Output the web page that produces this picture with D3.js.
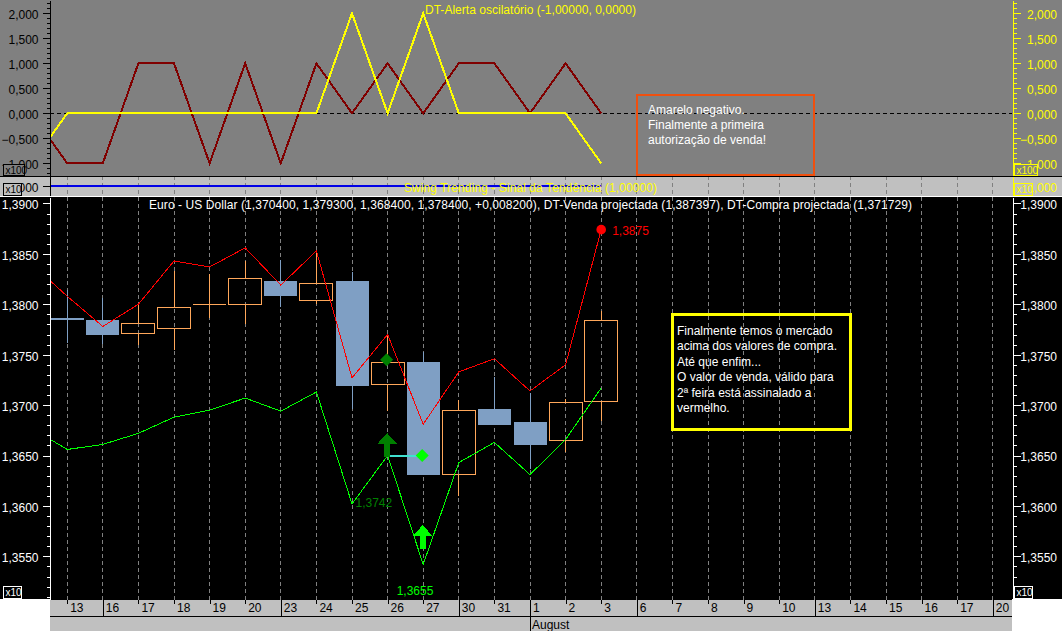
<!DOCTYPE html>
<html>
<head>
<meta charset="utf-8">
<title>Euro - US Dollar</title>
<script src="https://cdn.jsdelivr.net/npm/d3@7"></script>
<style>
	html, body { margin: 0; padding: 0; background: #fff; overflow: hidden; }
	svg { display: block; }
	text { font-family: "Liberation Sans", Arial, sans-serif; font-size: 12px; }
	.crisp, .crisp * { shape-rendering: crispEdges; }
</style>
</head>
<body>
<div id="chart"></div>
<script>
// our data
const dayLabels = ['13', '16', '17', '18', '19', '20', '23', '24', '25', '26', '27', '30', '31', '1', '2', '3', '6', '7', '8', '9', '10', '13', '14', '15', '16', '17', '20']
const weekStarts = [1, 6, 11, 13, 16, 21, 26] // indexes with a full height tick
const monthLabels = [{index: 13, label: 'August'}]

// daily candles, 13 July to 3 August
const open = [1.3786, 1.3784, 1.3771, 1.3776, 1.3800, 1.3800, 1.3823, 1.3804, 1.3823, 1.3720, 1.3743, 1.3631, 1.3696, 1.3683, 1.3665, 1.3704]
const high = [1.3814, 1.3806, 1.3800, 1.3833, 1.3830, 1.3843, 1.3844, 1.3854, 1.3832, 1.3770, 1.3753, 1.3705, 1.3728, 1.3712, 1.3706, 1.3793]
const low = [1.3762, 1.3761, 1.3760, 1.3755, 1.3786, 1.3780, 1.3797, 1.3800, 1.3696, 1.3694, 1.3631, 1.3610, 1.3680, 1.3637, 1.3653, 1.3684]
const close = [1.3784, 1.3770, 1.3781, 1.3797, 1.3800, 1.3826, 1.3808, 1.3821, 1.3719, 1.3742, 1.3631, 1.3695, 1.3680, 1.3660, 1.3703, 1.3784]

// these lines start one session before the first label, off the left edge
const sellLine = [1.3840, 1.3808, 1.3778, 1.3800, 1.3843, 1.3837, 1.3856, 1.3819, 1.3853, 1.3727, 1.3770, 1.3681, 1.3733, 1.3746, 1.3714, 1.3740, 1.3874]
const buyLine = [1.3677, 1.3656, 1.3661, 1.3672, 1.3688, 1.3695, 1.3707, 1.3694, 1.3713, 1.3602, 1.3650, 1.3542, 1.3643, 1.3663, 1.3631, 1.3666, 1.3717]
const yellowOsc = [-1, 0, 0, 0, 0, 0, 0, 0, 0, 2, 0, 2, 0, 0, 0, 0, -1]
const redOsc = [0, -1, -1, 1, 1, -1, 1, -1, 1, 0, 1, 0, 1, 1, 0, 1, 0]
const swingLine = [1, 1, 1, 1, 1, 1, 1, 1, 1, 1, 1, 1, 1, 1, 1, 1, 1]

const oscTicks = [-1, -0.5, 0, 0.5, 1, 1.5, 2]
const swingTicks = [1]
const priceTicks = [1.355, 1.36, 1.365, 1.37, 1.375, 1.38, 1.385, 1.39]

const oscTitle = 'DT-Alerta oscilatório (-1,00000, 0,0000)'
const swingTitle = 'Swing Trending - Sinal da Tendência (1,00000)'
const priceTitle = 'Euro - US Dollar (1,370400, 1,379300, 1,368400, 1,378400, +0,008200), DT-Venda projectada (1,387397), DT-Compra projectada (1,371729)'
const orangeNote = ['Amarelo negativo.', 'Finalmente a primeira', 'autorização de venda!']
const yellowNote = ['Finalmente temos o mercado', 'acima dos valores de compra.', 'Até que enfim...', 'O valor de venda, válido para', '2ª feira está assinalado a', 'vermelho.']

// signals on the price panel
const sellDots = [{index: 15, value: 1.3874, label: '1,3875'}]
const upArrows = [{index: 9, value: 1.36723, color: '#008000'}, {index: 10, value: 1.3581, color: '#00ff00'}]
const diamonds = [{index: 9, value: 1.3745, color: '#008000'}, {index: 10, value: 1.3650, color: '#00ff00'}]
const greenLabels = [{index: 8, value: 1.3602, label: '1,3742', color: '#008000'}, {index: 10, value: 1.3515, label: '1,3655', color: '#00ff00'}]

/**
 * Layout and scales
 * */
const width = 1062
const height = 631
const left = 50
const right = 1012
const oscBottom = 176
const swingBottom = 197
const priceBottom = 600
const stripRow = 616

const x = d3.scaleLinear().domain([0, dayLabels.length - 1]).range([67.2, 992.8])
const yOsc = d3.scaleLinear().domain([-1.254, 2.266]).range([oscBottom, 0])
const ySwing = d3.scaleLinear().domain([0, 2]).range([swingBottom - 1, oscBottom])
const yPrice = d3.scaleLinear().domain([1.35067, 1.39064]).range([priceBottom, swingBottom])

const commaLocale = d3.formatLocale({decimal: ',', thousands: '.', grouping: [3], currency: ['', '']})
const fmt3 = commaLocale.format('.3f')
const fmt4 = commaLocale.format('.4f')

const $svg = d3.select('#chart').append('svg').attr('width', width).attr('height', height)

// panel backgrounds
const panels = [
	{y: 0, h: oscBottom, fill: '#808080'},
	{y: oscBottom, h: swingBottom - oscBottom, fill: '#c0c0c0'},
	{y: swingBottom, h: priceBottom - swingBottom, fill: '#000'}
]
$svg.append('g').selectAll('rect').data(panels).join('rect')
	.attr('x', 0).attr('width', width)
	.attr('y', d => d.y).attr('height', d => d.h)
	.attr('fill', d => d.fill)

// clip each panel so that the lead-in of the lines stays off the axis
const defs = $svg.append('defs')
const clipFor = (id, top, bottom) => defs.append('clipPath').attr('id', id).append('rect')
	.attr('x', left).attr('y', top).attr('width', right - left).attr('height', bottom - top)
clipFor('clipOsc', 0, oscBottom)
clipFor('clipSwing', oscBottom, swingBottom)
clipFor('clipPrice', swingBottom, priceBottom)

const sessionLine = y => d3.line().x((d, i) => x(i - 1)).y(d => y(d))

const drawLine = ($g, values, y, color, w) => $g.append('path')
	.datum(values)
	.attr('d', sessionLine(y))
	.attr('fill', 'none')
	.attr('stroke', color)
	.attr('stroke-width', w)

// vertical dashed grid
const drawGrid = (top, bottom) => $svg.append('g').attr('class', 'crisp')
	.selectAll('line').data(dayLabels).join('line')
	.attr('x1', (d, i) => x(i)).attr('x2', (d, i) => x(i))
	.attr('y1', top).attr('y2', bottom)
	.attr('stroke', '#808080')
	.attr('stroke-dasharray', '4,3')

drawGrid(oscBottom, swingBottom)
drawGrid(swingBottom, priceBottom)

/**
 * Oscillator panel
 * */
const $osc = $svg.append('g').attr('class', 'crisp').attr('clip-path', 'url(#clipOsc)')
$osc.append('line')
	.attr('x1', left).attr('x2', right)
	.attr('y1', yOsc(0)).attr('y2', yOsc(0))
	.attr('stroke', '#000')
	.attr('stroke-dasharray', '4,3')
drawLine($osc, redOsc, yOsc, '#800000', 2)
drawLine($osc, yellowOsc, yOsc, '#ffff00', 2)

/**
 * Swing panel
 * */
const $swing = $svg.append('g').attr('class', 'crisp').attr('clip-path', 'url(#clipSwing)')
$swing.append('path')
	.datum(swingLine)
	.attr('d', sessionLine(ySwing))
	.attr('fill', 'none')
	.attr('stroke', '#0000e6')
	.attr('stroke-width', 2)

/**
 * Price panel
 * */
const candles = open.map((o, i) => ({i, o, h: high[i], l: low[i], c: close[i], up: close[i] > o, flat: close[i] === o}))
const blue = '#7f9fc4'
const orange = '#ffa75a'
const candleWidth = 33

const $price = $svg.append('g').attr('class', 'crisp').attr('clip-path', 'url(#clipPrice)')
const $candles = $price.selectAll('.candle').data(candles).join('g').attr('class', 'candle')
const candleColor = d => d.up || d.flat ? orange : blue

$candles.append('line')
	.attr('x1', d => x(d.i)).attr('x2', d => x(d.i))
	.attr('y1', d => yPrice(d.h)).attr('y2', d => yPrice(Math.max(d.o, d.c)))
	.attr('stroke', candleColor)
$candles.append('line')
	.attr('x1', d => x(d.i)).attr('x2', d => x(d.i))
	.attr('y1', d => yPrice(Math.min(d.o, d.c))).attr('y2', d => yPrice(d.l))
	.attr('stroke', candleColor)
$candles.append('rect')
	.attr('x', d => x(d.i) - candleWidth / 2)
	.attr('width', candleWidth)
	.attr('y', d => yPrice(Math.max(d.o, d.c)))
	.attr('height', d => Math.max(1, Math.abs(yPrice(d.o) - yPrice(d.c))))
	.attr('fill', d => d.up ? 'none' : candleColor(d))
	.attr('stroke', d => d.up ? orange : 'none')

drawLine($price, sellLine, yPrice, '#ff0000', 1)
drawLine($price, buyLine, yPrice, '#00ff00', 1)

// the cyan link between the two diamonds
$price.append('line')
	.attr('x1', x(diamonds[0].index)).attr('x2', x(diamonds[1].index))
	.attr('y1', yPrice(diamonds[1].value)).attr('y2', yPrice(diamonds[1].value))
	.attr('stroke', '#40e0d0')
	.attr('stroke-width', 2)

const $signals = $svg.append('g').attr('clip-path', 'url(#clipPrice)')

$signals.selectAll('.dot').data(sellDots).join('circle')
	.attr('class', 'dot')
	.attr('cx', d => x(d.index)).attr('cy', d => yPrice(d.value))
	.attr('r', 4.8)
	.attr('fill', '#ff0000')

$signals.selectAll('.diamond').data(diamonds).join('path')
	.attr('class', 'diamond')
	.attr('transform', d => `translate(${x(d.index) - 1},${yPrice(d.value)})`)
	.attr('d', 'M0 -6.5L6.5 0L0 6.5L-6.5 0Z')
	.attr('fill', d => d.color)

$signals.selectAll('.arrow').data(upArrows).join('path')
	.attr('class', 'arrow crisp')
	.attr('transform', d => `translate(${x(d.index) - 0.5},${yPrice(d.value)})`)
	.attr('d', 'M0 0L9.5 10.5H3V24H-3V10.5H-9.5Z')
	.attr('fill', d => d.color)

$signals.selectAll('.sellLabel').data(sellDots).join('text')
	.attr('class', 'sellLabel')
	.attr('x', d => x(d.index) + 11).attr('y', d => yPrice(d.value) + 5)
	.attr('fill', '#ff0000')
	.text(d => d.label)

$signals.selectAll('.greenLabel').data(greenLabels).join('text')
	.attr('class', 'greenLabel')
	.attr('x', d => x(d.index) + (d.index === 8 ? 3.5 : -26.5)).attr('y', d => yPrice(d.value) + 3)
	.attr('fill', d => d.color)
	.text(d => d.label)

/**
 * Value axes, minor ticks first and labels on top
 * */
const minorValues = (ticks, step, lo, hi) => d3.range(lo, hi, step).filter(v => !ticks.some(t => Math.abs(t - v) < step / 10))

const drawValueAxis = (scale, ticks, minors, format, leftColor, rightColor) => {
	const $left = $svg.append('g').attr('class', 'crisp').attr('transform', `translate(${left - 0.5},0)`).attr('color', leftColor)
	$left.append('g').call(d3.axisLeft(scale).tickValues(minors).tickSize(3).tickFormat('').tickSizeOuter(0))
	$left.append('g').call(d3.axisLeft(scale).tickValues(ticks).tickSize(7).tickPadding(4).tickFormat(format).tickSizeOuter(0))

	const $right = $svg.append('g').attr('class', 'crisp').attr('transform', `translate(${right + 0.5},0)`).attr('color', rightColor)
	$right.append('g').call(d3.axisRight(scale).tickValues(minors).tickSize(4).tickFormat('').tickSizeOuter(0))
	$right.append('g').call(d3.axisRight(scale).tickValues(ticks).tickSize(8).tickFormat(format).tickSizeOuter(0))
	$right.selectAll('text').attr('text-anchor', 'end').attr('x', 1057 - right - 0.5)

	$svg.selectAll('.tick text').attr('dy', '0.45em').style('font-size', '12px').style('font-family', '"Liberation Sans", Arial, sans-serif')
}

drawValueAxis(yOsc, oscTicks, minorValues(oscTicks, 0.1, -1.2, 2.3), fmt3, '#000', '#ffff00')
drawValueAxis(ySwing, swingTicks, [], fmt3, '#000', '#ffff00')
drawValueAxis(yPrice, priceTicks, minorValues(priceTicks, 0.001, 1.351, 1.3905), fmt4, '#fff', '#fff')

// panel separators
$svg.append('g').attr('class', 'crisp').selectAll('line')
	.data([{y: oscBottom + 0.5, c: '#000'}, {y: swingBottom - 0.5, c: '#fff'}]).join('line')
	.attr('x1', 0).attr('x2', width)
	.attr('y1', d => d.y).attr('y2', d => d.y)
	.attr('stroke', d => d.c)

/**
 * Titles
 * */
const titles = [
	{text: oscTitle, x: 425, y: 14, fill: '#ffff00', w: 211},
	{text: swingTitle, x: 404, y: 192, fill: '#ffff00', w: 253},
	{text: priceTitle, x: 149, y: 209, fill: '#fff', w: 763}
]
$svg.append('g').selectAll('text').data(titles).join('text')
	.attr('x', d => d.x).attr('y', d => d.y)
	.attr('fill', d => d.fill)
	.attr('textLength', d => d.w)
	.text(d => d.text)

/**
 * Multiplier boxes
 * */
const scaleBoxes = [
	{label: 'x100', x: 3, y: 164, w: 21, h: 11, stroke: '#000', fill: '#808080'},
	{label: 'x100', x: 1014, y: 164, w: 23, h: 11, stroke: '#ffff00', fill: '#808080'},
	{label: 'x10', x: 3, y: 183, w: 18, h: 12, stroke: '#000', fill: '#c0c0c0'},
	{label: 'x10', x: 1014, y: 183, w: 18, h: 12, stroke: '#ffff00', fill: '#c0c0c0'},
	{label: 'x10', x: 3, y: 586, w: 18, h: 12, stroke: '#fff', fill: '#000'},
	{label: 'x10', x: 1014, y: 586, w: 18, h: 12, stroke: '#fff', fill: '#000'}
]
const $boxes = $svg.append('g').selectAll('g').data(scaleBoxes).join('g')
$boxes.append('rect')
	.attr('class', 'crisp')
	.attr('x', d => d.x + 0.5).attr('y', d => d.y + 0.5)
	.attr('width', d => d.w).attr('height', d => d.h)
	.attr('fill', d => d.fill)
	.attr('stroke', d => d.stroke)
$boxes.append('text')
	.attr('x', d => d.x + 2.5).attr('y', d => d.y + 10)
	.attr('fill', d => d.stroke)
	.style('font-size', '10px')
	.text(d => d.label)

/**
 * Time axis
 * */
$svg.append('rect').attr('x', left).attr('y', priceBottom).attr('width', right - left).attr('height', height - priceBottom).attr('fill', '#c0c0c0')
$svg.append('rect').attr('x', 0).attr('y', priceBottom - 1).attr('width', left).attr('height', height - priceBottom + 1).attr('fill', '#fff')
$svg.append('rect').attr('x', right).attr('y', priceBottom - 1).attr('width', width - right).attr('height', height - priceBottom + 1).attr('fill', '#fff')

const $time = $svg.append('g').attr('class', 'crisp').attr('transform', `translate(0,${priceBottom})`).attr('color', '#000')
	.call(d3.axisBottom(x).tickValues(d3.range(dayLabels.length)).tickFormat(i => dayLabels[i]).tickSize(4).tickSizeOuter(0))
$time.select('.domain').remove()
$time.selectAll('.tick line').attr('y2', (d, i) => weekStarts.includes(i) ? stripRow - priceBottom : 4)
$time.selectAll('.tick text')
	.attr('text-anchor', 'start').attr('x', 2.5).attr('y', 0).attr('dy', '12px')
	.style('font-size', '12px').style('font-family', '"Liberation Sans", Arial, sans-serif')

$svg.append('line').attr('class', 'crisp')
	.attr('x1', left).attr('x2', right).attr('y1', stripRow + 0.5).attr('y2', stripRow + 0.5)
	.attr('stroke', '#000')

const $months = $svg.append('g').selectAll('g').data(monthLabels).join('g')
$months.append('line').attr('class', 'crisp')
	.attr('x1', d => x(d.index)).attr('x2', d => x(d.index))
	.attr('y1', stripRow).attr('y2', height)
	.attr('stroke', '#000')
$months.append('text')
	.attr('x', d => x(d.index) + 2).attr('y', 629)
	.attr('fill', '#000')
	.text(d => d.label)

/**
 * Notes drawn on the chart
 * */
const drawNote = (lines, box, color, w, textX, firstLine, lineGap) => {
	$svg.append('rect').attr('class', 'crisp')
		.attr('x', box.x).attr('y', box.y).attr('width', box.w).attr('height', box.h)
		.attr('fill', 'none').attr('stroke', color).attr('stroke-width', w)
	$svg.append('g').selectAll('text').data(lines).join('text')
		.attr('x', textX)
		.attr('y', (d, i) => firstLine + i * lineGap)
		.attr('fill', '#fff')
		.text(d => d)
}

drawNote(orangeNote, {x: 637, y: 95, w: 177, h: 80}, '#f0500f', 2, 648, 114, 15)
drawNote(yellowNote, {x: 672, y: 314, w: 178, h: 115}, '#ffff00', 3, 677, 335, 15.4)
</script>
</body>
</html>
